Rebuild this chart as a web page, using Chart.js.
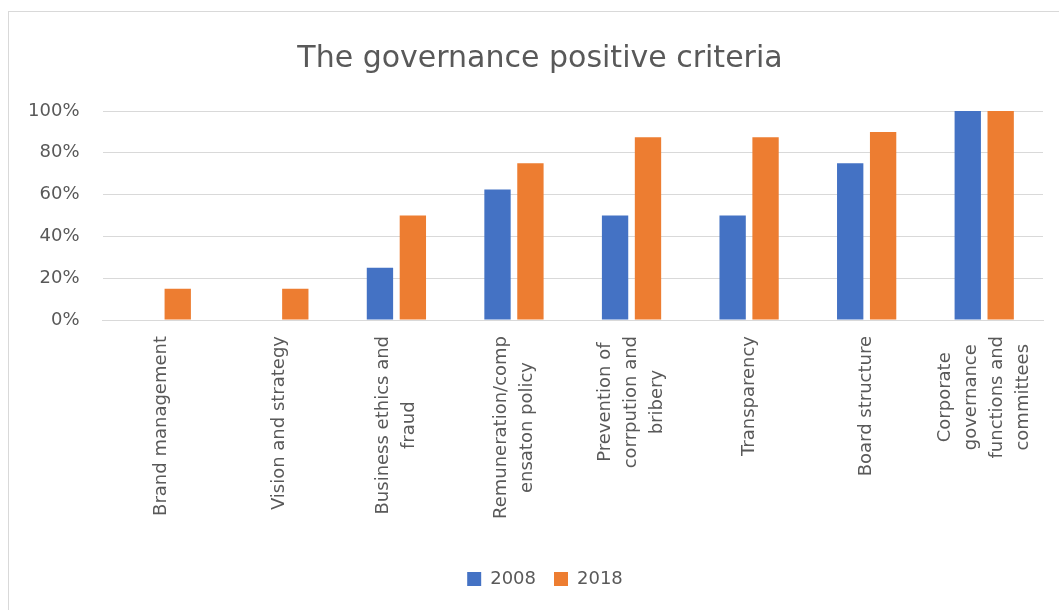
<!DOCTYPE html>
<html>
<head>
<meta charset="utf-8">
<script src="https://cdn.jsdelivr.net/npm/chart.js@4"></script>
<style>
  body { margin: 0; background: #fff; overflow: hidden; }
  #wrap {
    position: absolute; left: 8px; top: 11px;
    width: 1080px; height: 640px;
    border: 1px solid #d9d9d9; background: #fff;
  }
  #myChart { position: absolute; left: 0; top: 0; }
</style>
</head>
<body>
<div id="wrap"><canvas id="myChart" width="1062" height="598"></canvas></div>
<script>
// categories (multi-line labels as in the original)
const categories = [
  'Brand management',
  'Vision and strategy',
  ['Business ethics and', 'fraud'],
  ['Remuneration/comp', 'ensaton policy'],
  ['Prevention of', 'corrpution and', 'bribery'],
  'Transparency',
  'Board structure',
  ['Corporate', 'governance', 'functions and', 'committees']
];

// values in percent
const values2008 = [0, 0, 25, 62.5, 50, 50, 75, 100];
const values2018 = [15, 15, 50, 75, 87.5, 87.5, 90, 100];

const yTicks = [0, 20, 40, 60, 80, 100];

const textColor = '#595959';
const gridColor = '#d9d9d9';
const font = 'DejaVu Sans';

// center the lines of the rotated category labels like Excel does,
// and nudge title/legend to where Excel put them
const excelTweaks = {
  id: 'excelTweaks',
  beforeDraw(chart) {
    const scale = chart.scales.x;
    const items = scale.getLabelItems(chart.chartArea);
    const ctx = chart.ctx;
    items.forEach(it => {
      if (it._centered) return;
      const lines = Array.isArray(it.label) ? it.label : [it.label];
      ctx.save();
      ctx.font = it.font.string;
      const w = Math.max(...lines.map(l => ctx.measureText(l).width));
      ctx.restore();
      it.textOffset = it.textOffset - (lines.length - 1) / 2 * it.font.lineHeight;
      const t = it.options.translation;
      it.options = Object.assign({}, it.options, {
        textAlign: 'center',
        translation: [t[0], t[1] + w / 2]
      });
      it._centered = true;
    });
    if (!chart._nudged) {
      chart.titleBlock.left += 14;
      chart.titleBlock.right += 14;
      chart.legend.left += 19;
      chart.legend.right += 19;
      chart._nudged = true;
    }
  }
};

const data = {
  labels: categories,
  datasets: [{
    label: '2008',
    backgroundColor: '#4472C4',
    data: values2008,
    barPercentage: 0.8,
    categoryPercentage: 0.56
  }, {
    label: '2018',
    backgroundColor: '#ED7D31',
    data: values2018,
    barPercentage: 0.8,
    categoryPercentage: 0.56
  }]
};

const config = {
  type: 'bar',
  data: data,
  plugins: [excelTweaks],
  options: {
    responsive: false,
    animation: false,
    layout: { padding: { left: 0, right: 28, top: 0, bottom: 12 } },
    plugins: {
      title: {
        display: true,
        text: 'The governance positive criteria',
        color: textColor,
        font: { family: font, size: 30, weight: 'normal' },
        padding: { top: 29, bottom: 34 }
      },
      legend: {
        position: 'bottom',
        labels: {
          color: textColor,
          font: { family: font, size: 18 },
          boxWidth: 14,
          boxHeight: 14,
          padding: 18
        }
      },
      tooltip: { enabled: false }
    },
    scales: {
      x: {
        grid: { display: false, drawTicks: false },
        border: { color: gridColor },
        ticks: {
          color: textColor,
          font: { family: font, size: 18, lineHeight: 1.45 },
          maxRotation: 90,
          minRotation: 90,
          autoSkip: false,
          padding: 16
        },
        afterFit: function (scale) {
          scale.height = 232;
          scale.paddingLeft = 0;
          scale.paddingRight = 0;
        }
      },
      y: {
        min: 0,
        max: 100,
        grid: { color: gridColor, drawTicks: false },
        border: { display: false },
        afterBuildTicks: function (scale) {
          scale.ticks = yTicks.map(v => ({ value: v }));
        },
        ticks: {
          color: textColor,
          font: { family: font, size: 18 },
          padding: 23,
          callback: v => v + '%'
        },
        afterFit: function (scale) { scale.width = 93.5; }
      }
    }
  }
};

const myChart = new Chart(document.getElementById('myChart'), config);
</script>
</body>
</html>
